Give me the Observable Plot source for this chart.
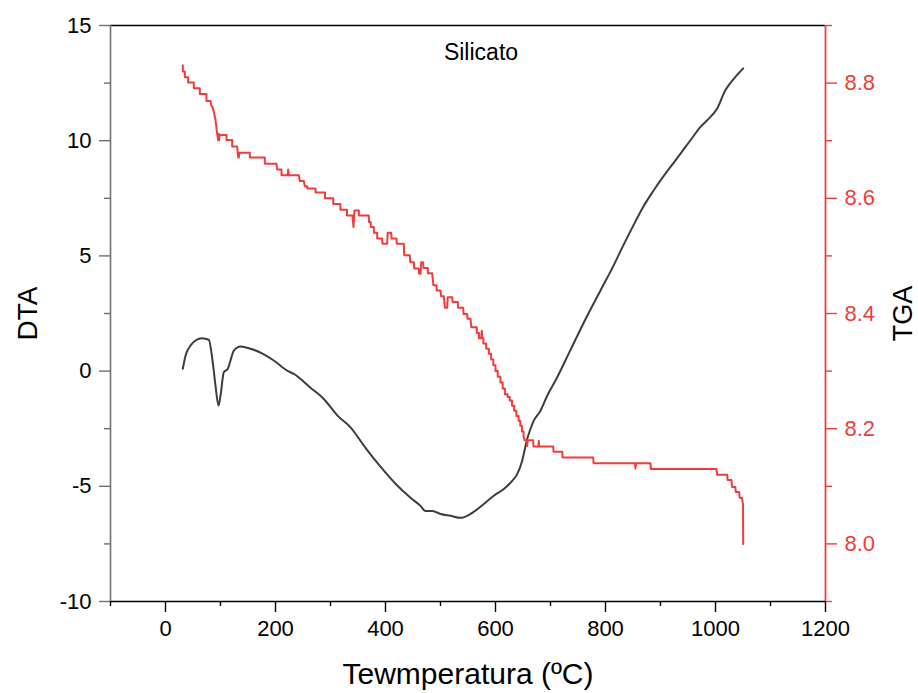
<!DOCTYPE html>
<html>
<head>
<meta charset="utf-8">
<script src="https://cdn.jsdelivr.net/npm/d3@7"></script>
<script src="https://cdn.jsdelivr.net/npm/@observablehq/plot@0.6"></script>
<style>
  html, body { margin: 0; padding: 0; background: #fff; }
  #chart svg { display: block; }
</style>
</head>
<body>
<div id="chart"></div>
<script>
// ---- Data ----
const chartTitle = "Silicato";
const xTitle = "Tewmperatura (ºC)";
const yLeftTitle = "DTA";
const yRightTitle = "TGA";

const xMajorTicks = [0, 200, 400, 600, 800, 1000, 1200];
const xMinorTicks = [-100, 100, 300, 500, 700, 900, 1100];
const dtaMajorTicks = [-10, -5, 0, 5, 10, 15];
const dtaMinorTicks = [-7.5, -2.5, 2.5, 7.5, 12.5];
const tgaMajorTicks = [8.0, 8.2, 8.4, 8.6, 8.8];
const tgaMinorTicks = [7.9, 8.1, 8.3, 8.5, 8.7, 8.9];

// DTA curve: temperature (ºC) and value
const dtaTemp = [31.5, 36.4, 45.5, 54.5, 66.7, 78.7, 85.5, 90.9, 96.4, 100, 106, 113.3, 118.2, 124.2, 136.4, 154.5, 176.4, 196.9, 221.3, 233.3, 263.6, 287.8, 312.7, 336.4, 363.6, 390.9, 418.2, 445.5, 463.6, 472.7, 485.5, 500, 518.2, 536.4, 554.5, 572.7, 596.9, 615.1, 630.4, 639.5, 648.5, 652.7, 657.6, 662.4, 669.6, 681.8, 694, 709.1, 736.4, 763.6, 790.9, 815.1, 833.3, 854.5, 866.7, 887.8, 900, 918.2, 936.4, 954.5, 972.7, 984.9, 1003.1, 1018.2, 1024.2, 1050.4];
const dtaValue = [0.10, 0.67, 1.11, 1.33, 1.43, 1.36, 0.46, -0.63, -1.50, -1.07, -0.05, 0.10, 0.46, 0.89, 1.07, 0.97, 0.76, 0.46, 0.02, -0.12, -0.72, -1.21, -1.93, -2.44, -3.33, -4.15, -4.89, -5.50, -5.85, -6.07, -6.07, -6.20, -6.28, -6.37, -6.20, -5.89, -5.41, -5.12, -4.76, -4.47, -3.89, -3.46, -2.95, -2.59, -2.15, -1.72, -1.07, -0.41, 0.92, 2.25, 3.50, 4.60, 5.50, 6.50, 7.05, 7.85, 8.28, 8.86, 9.44, 10.02, 10.60, 10.89, 11.40, 12.20, 12.41, 13.14];

// TGA curve (step-like record): temperature (ºC) and value
const tgaTemp = [31.5, 31.5, 35.2, 35.2, 41.2, 41.2, 51.5, 51.5, 62.4, 62.4, 74.5, 74.5, 81.8, 83.6, 84.9, 87.9, 90.9, 93.9, 95.8, 96.5, 97.5, 98.5, 110.9, 110.9, 121.2, 121.2, 130.3, 132.1, 133.3, 134.5, 153.3, 153.3, 180.6, 180.6, 201.8, 203, 210.9, 210.9, 222, 223, 224.2, 242.4, 244.2, 251.5, 253.3, 257.6, 258, 272.7, 273, 290, 290, 305, 305, 318, 318, 330, 330, 336.4, 340, 341.8, 343.6, 351.5, 351.5, 369.6, 370, 373, 373.3, 378.7, 379, 384.9, 385, 394, 394.5, 403, 404, 410.4, 411, 420, 420.5, 433.3, 434, 444.2, 445, 451.5, 452, 460.5, 461, 463.6, 465, 468.5, 469, 476.9, 477, 484.9, 487, 492.7, 493, 500, 501, 506, 508, 512.2, 513, 521.3, 522, 531.5, 532, 541.3, 542, 548.5, 549, 554.5, 556, 561.8,
  566, 566, 570, 570, 574, 575, 576, 578, 578, 583, 583, 588, 588, 592, 592, 596, 596, 600, 600, 604, 604, 609, 609, 613, 613, 617, 617, 622, 622, 626, 626, 630, 630, 634, 634, 638, 638, 642, 642, 645, 645, 648, 648, 651, 651, 653,
  657, 657.6, 658.5, 668.5, 669, 678, 678.7, 679.5, 705, 705.5, 721.3, 722, 777.6, 778.3, 853.5, 854.5, 855.5, 881.8, 882.5, 1001.8, 1003, 1021.3, 1022, 1029, 1030, 1036, 1037, 1043, 1044, 1048, 1050, 1050.4];
const tgaValue = [8.831, 8.820, 8.820, 8.810, 8.810, 8.801, 8.801, 8.791, 8.791, 8.781, 8.781, 8.769, 8.769, 8.760, 8.760, 8.750, 8.736, 8.712, 8.701, 8.712, 8.701, 8.710, 8.710, 8.701, 8.701, 8.690, 8.690, 8.671, 8.671, 8.679, 8.679, 8.671, 8.671, 8.660, 8.660, 8.650, 8.650, 8.640, 8.640, 8.650, 8.640, 8.640, 8.630, 8.630, 8.621, 8.621, 8.617, 8.617, 8.610, 8.610, 8.600, 8.600, 8.590, 8.590, 8.580, 8.580, 8.570, 8.570, 8.570, 8.550, 8.579, 8.579, 8.570, 8.570, 8.559, 8.559, 8.550, 8.550, 8.540, 8.540, 8.530, 8.530, 8.521, 8.521, 8.540, 8.540, 8.530, 8.530, 8.521, 8.521, 8.501, 8.501, 8.489, 8.489, 8.478, 8.478, 8.469, 8.469, 8.489, 8.489, 8.479, 8.479, 8.470, 8.470, 8.449, 8.449, 8.440, 8.440, 8.430, 8.430, 8.410, 8.410, 8.428, 8.428, 8.420, 8.420, 8.410, 8.410, 8.399, 8.399, 8.391, 8.391, 8.376, 8.376,
  8.376, 8.366, 8.366, 8.357, 8.357, 8.370, 8.357, 8.357, 8.348, 8.348, 8.339, 8.339, 8.330, 8.330, 8.320, 8.320, 8.310, 8.310, 8.300, 8.300, 8.290, 8.290, 8.280, 8.280, 8.270, 8.270, 8.260, 8.260, 8.255, 8.255, 8.249, 8.249, 8.240, 8.240, 8.231, 8.231, 8.222, 8.222, 8.214, 8.214, 8.205, 8.205, 8.195, 8.195, 8.187, 8.180,
  8.180, 8.170, 8.180, 8.180, 8.169, 8.169, 8.179, 8.169, 8.169, 8.160, 8.160, 8.150, 8.150, 8.140, 8.140, 8.131, 8.140, 8.140, 8.130, 8.130, 8.120, 8.120, 8.111, 8.111, 8.099, 8.099, 8.090, 8.090, 8.080, 8.080, 8.069, 8.000];

// ---- Build tables ----
const dta = dtaTemp.map((t, i) => ({t, v: dtaValue[i]}));
const tgaDomain = [7.9, 8.9];
const dtaDomain = [-10, 15];
const toLeft = g => dtaDomain[0] + (g - tgaDomain[0]) / (tgaDomain[1] - tgaDomain[0]) * (dtaDomain[1] - dtaDomain[0]);
const fromLeft = y => tgaDomain[0] + (y - dtaDomain[0]) / (dtaDomain[1] - dtaDomain[0]) * (tgaDomain[1] - tgaDomain[0]);
const tga = tgaTemp.map((t, i) => ({t, v: toLeft(tgaValue[i])}));

const FONT = "'Liberation Sans', Arial, Helvetica, sans-serif";
const RED = "#f03c3c";
const DARK = "#3d3d3d";
const GREY = "#707070";

const plot = Plot.plot({
  width: 918,
  height: 693,
  marginLeft: 110,
  marginRight: 93,
  marginTop: 25,
  marginBottom: 92,
  style: {fontFamily: FONT, fontSize: "22px", background: "#fff", color: "#000"},
  x: {domain: [-100, 1200], label: null},
  y: {domain: dtaDomain, label: null},
  marks: [
    // frame lines
    Plot.ruleY([dtaDomain[1]], {stroke: "#000", strokeWidth: 1.6}),
    Plot.ruleY([dtaDomain[0]], {stroke: "#000", strokeWidth: 1.6}),
    Plot.ruleX([-100], {stroke: GREY, strokeWidth: 1.6}),
    // bottom axis
    Plot.axisX(xMajorTicks, {anchor: "bottom", tickSize: 11, tickPadding: 8, stroke: "#000", fill: "#000", fontSize: 22, label: null, strokeWidth: 1.4, tickFormat: d => String(d)}),
    Plot.axisX(xMinorTicks, {anchor: "bottom", tickSize: 5, tickFormat: () => "", stroke: "#000", label: null, strokeWidth: 1.4}),
    // left axis
    Plot.axisY(dtaMajorTicks, {anchor: "left", tickSize: 11, tickPadding: 8, stroke: GREY, fill: "#000", fontSize: 22, label: null, strokeWidth: 1.4, tickFormat: d => String(d)}),
    Plot.axisY(dtaMinorTicks, {anchor: "left", tickSize: 6, tickFormat: () => "", stroke: GREY, label: null, strokeWidth: 1.4}),
    // right axis (TGA)
    Plot.axisY(tgaMajorTicks.map(toLeft), {anchor: "right", tickSize: 11, tickPadding: 8, stroke: RED, fill: RED, fontSize: 22, label: null, strokeWidth: 1.4, tickFormat: d => fromLeft(d).toFixed(1)}),
    Plot.axisY(tgaMinorTicks.map(toLeft), {anchor: "right", tickSize: 6, tickFormat: () => "", stroke: RED, label: null, strokeWidth: 1.4}),
    // curves
    Plot.line(dta, {x: "t", y: "v", stroke: DARK, strokeWidth: 2, curve: "monotone-x"}),
    Plot.line(tga, {x: "t", y: "v", stroke: RED, strokeWidth: 2}),
    Plot.ruleX([1200], {stroke: RED, strokeWidth: 1.8}),
    // titles
    Plot.text([chartTitle], {frameAnchor: "top", textAnchor: "middle", dx: 13, dy: 18, fontSize: 23, fill: "#000"}),
    Plot.text([xTitle], {frameAnchor: "bottom", textAnchor: "middle", dy: 82, fontSize: 30, fill: "#000"}),
    Plot.text([yLeftTitle], {frameAnchor: "left", textAnchor: "middle", dx: -82, rotate: -90, fontSize: 28, fill: "#000"}),
    Plot.text([yRightTitle], {frameAnchor: "right", textAnchor: "middle", dx: 78, rotate: -90, fontSize: 27, fill: "#000"})
  ]
});
document.getElementById("chart").appendChild(plot);
</script>
</body>
</html>
